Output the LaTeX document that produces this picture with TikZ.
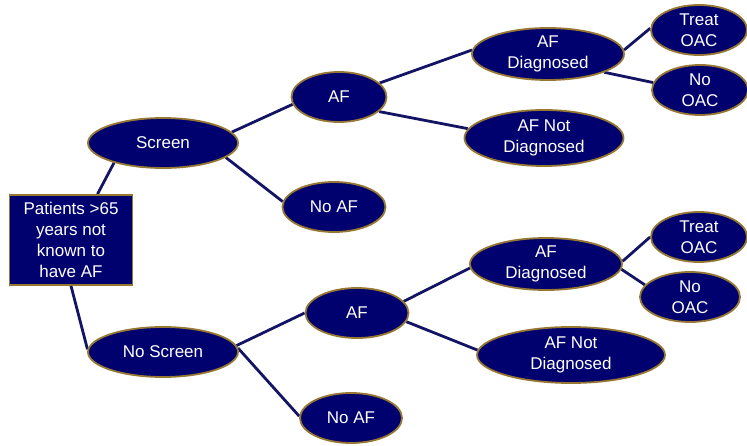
\documentclass[tikz,border=0pt]{standalone}
\usepackage{fontspec}
\setmainfont{Liberation Sans}
\usetikzlibrary{shapes.geometric,backgrounds}
\definecolor{navy}{RGB}{0,0,110}
\definecolor{gold}{RGB}{150,120,50}
\definecolor{linec}{RGB}{20,20,100}
\tikzset{
  every node/.style={font=\fontsize{17}{21}\selectfont, text=white, align=center, inner sep=0pt},
  ell/.style={ellipse, fill=navy, draw=gold, line width=1.8pt, minimum height=50pt},
  boxn/.style={rectangle, fill=navy, draw=gold, line width=1.8pt},
  conn/.style={draw=linec, line width=2.8pt},
}
\begin{document}
\begin{tikzpicture}[x=1pt,y=-1pt]
\useasboundingbox (0,0) rectangle (747,446);
\node[boxn, minimum width=123pt, minimum height=90pt] (root) at (71,240) {Patients >65\\years not\\known to\\have AF};
\node[ell, minimum width=150pt] (scr) at (163,143) {Screen};
\node[ell, minimum width=150pt] (noscr) at (163,352) {No Screen};
\node[ell, minimum width=95pt] (af1) at (339,97) {AF};
\node[ell, minimum width=103pt] (noaf1) at (334,207) {No AF};
\node[ell, minimum width=152pt, minimum height=52pt] (afd1) at (548,54) {AF\\Diagnosed};
\node[ell, minimum width=159pt, minimum height=56pt] (afnd1) at (544,138) {AF Not\\Diagnosed};
\node[ell, minimum width=96pt] (tr1) at (699,30) {Treat\\OAC};
\node[ell, minimum width=96pt] (no1) at (700,90) {No\\OAC};
\node[ell, minimum width=103pt] (af2) at (357,313) {AF};
\node[ell, minimum width=102pt] (noaf2) at (351,418) {No AF};
\node[ell, minimum width=152pt, minimum height=52pt] (afd2) at (546,264) {AF\\Diagnosed};
\node[ell, minimum width=188pt, minimum height=56pt] (afnd2) at (571,355) {AF Not\\Diagnosed};
\node[ell, minimum width=96pt] (tr2) at (699,237) {Treat\\OAC};
\node[ell, minimum width=100pt] (no2) at (690,297) {No\\OAC};
\begin{scope}[on background layer]
\draw[conn] (root.60) -- (scr.202);
\draw[conn] (root.south) -- (noscr.178);
\draw[conn] (scr.9) -- (af1.189);
\draw[conn] (scr.-13) -- (noaf1.174);
\draw[conn] (af1.19) -- (afd1.177);
\draw[conn] (af1.-20) -- (afnd1.173);
\draw[conn] (afd1.3) -- (tr1.178);
\draw[conn] (afd1.-18) -- (no1.171);
\draw[conn] (noscr.5) -- (af2.180);
\draw[conn] (noscr.3) -- (noaf2.178);
\draw[conn] (af2.14) -- (afd2.183);
\draw[conn] (af2.-10) -- (afnd2.177);
\draw[conn] (afd2.2) -- (tr2.180);
\draw[conn] (afd2.-4) -- (no2.165);
\end{scope}
\end{tikzpicture}
\end{document}
